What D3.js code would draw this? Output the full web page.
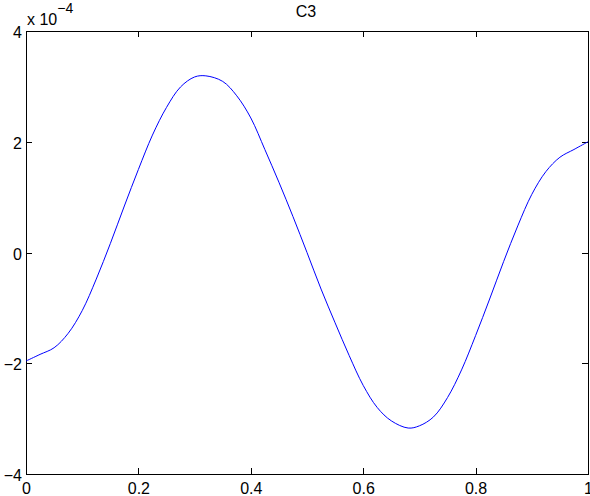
<!DOCTYPE html>
<html>
<head>
<meta charset="utf-8">
<script src="https://cdn.jsdelivr.net/npm/d3@7"></script>
<style>
  html, body { margin: 0; padding: 0; background: #fff; }
  svg { display: block; }
  text { font-family: "Liberation Sans", Arial, Helvetica, sans-serif; fill: #000; }
</style>
</head>
<body>
<svg id="chart" width="590" height="496"></svg>
<script>
// ---- data (values in units of 1e-4) ----
const title = "C3";
const xValues = [0, 0.025, 0.05, 0.075, 0.1, 0.125, 0.15, 0.175, 0.2, 0.225, 0.25, 0.275, 0.3, 0.32,
  0.35, 0.375, 0.4, 0.425, 0.45, 0.475, 0.5, 0.525, 0.55, 0.575, 0.6, 0.625, 0.65, 0.68,
  0.7, 0.725, 0.75, 0.775, 0.8, 0.825, 0.85, 0.875, 0.9, 0.925, 0.95, 0.975, 1.0];
const yValues = [-1.96, -1.84, -1.72, -1.46, -1.05, -0.48, 0.16, 0.84, 1.50, 2.12, 2.62, 2.99, 3.17, 3.19,
  3.09, 2.83, 2.43, 1.86, 1.27, 0.65, 0.0, -0.66, -1.27, -1.86, -2.40, -2.80, -3.04, -3.17,
  -3.13, -2.97, -2.62, -2.12, -1.50, -0.84, -0.16, 0.48, 1.05, 1.46, 1.72, 1.86, 2.0];
const xTicks = [0, 0.2, 0.4, 0.6, 0.8, 1];
const xTickLabels = ["0", "0.2", "0.4", "0.6", "0.8", "1"];
const yTicks = [-4, -2, 0, 2, 4];
const yTickLabels = ["\u22124", "\u22122", "0", "2", "4"];
const exponentLabel = "\u22124";

const svg = d3.select("#chart");
const mLeft = 26, mRight = 588, mTop = 31, mBottom = 474;
const x = d3.scaleLinear().domain([0, 1]).range([mLeft, mRight]);
const y = d3.scaleLinear().domain([-4, 4]).range([mBottom, mTop]);
const tickLen = 6;
const fontSize = 16;

// frame
svg.append("rect")
  .attr("x", mLeft).attr("y", mTop)
  .attr("width", mRight - mLeft).attr("height", mBottom - mTop)
  .attr("fill", "none").attr("stroke", "#000").attr("stroke-width", 1)
  .attr("shape-rendering", "crispEdges");

// axes (ticks inward)
const axB = d3.axisBottom(x).tickValues(xTicks).tickSizeInner(-tickLen).tickSizeOuter(0)
  .tickFormat((d, i) => xTickLabels[i]).tickPadding(9);
const axT = d3.axisTop(x).tickValues(xTicks).tickSizeInner(-tickLen).tickSizeOuter(0).tickFormat("");
const axL = d3.axisLeft(y).tickValues(yTicks).tickSizeInner(-tickLen).tickSizeOuter(0)
  .tickFormat((d, i) => yTickLabels[i]).tickPadding(4);
const axR = d3.axisRight(y).tickValues(yTicks).tickSizeInner(-tickLen).tickSizeOuter(0).tickFormat("");

function styleAxis(g) {
  g.select(".domain").remove();
  g.selectAll("line").attr("stroke", "#000").attr("shape-rendering", "crispEdges");
  g.selectAll("text").attr("font-size", fontSize).attr("fill", "#000")
    .style("font-family", '"Liberation Sans", Arial, sans-serif');
}
const gB = svg.append("g").attr("transform", `translate(0,${mBottom})`).call(axB).call(styleAxis);
svg.append("g").attr("transform", `translate(0,${mTop})`).call(axT).call(styleAxis);
const gL = svg.append("g").attr("transform", `translate(${mLeft},0)`).call(axL).call(styleAxis);
svg.append("g").attr("transform", `translate(${mRight},0)`).call(axR).call(styleAxis);
gL.selectAll("text").attr("dy", "0.42em");

// line
const pts = xValues.map((d, i) => [d, yValues[i]]);
const line = d3.line().x(d => x(d[0])).y(d => y(d[1])).curve(d3.curveCatmullRom.alpha(0.5));
svg.append("path").datum(pts)
  .attr("d", line).attr("fill", "none").attr("stroke", "#0000ff").attr("stroke-width", 1);

// title
svg.append("text").attr("x", (mLeft + mRight) / 2 - 1).attr("y", 17)
  .attr("text-anchor", "middle").attr("font-size", fontSize).text(title);

// exponent
const ex = svg.append("text").attr("x", mLeft + 1).attr("y", 25).attr("font-size", fontSize);
ex.append("tspan").text("x 10");
ex.append("tspan").attr("dy", -12).attr("font-size", 14).text(exponentLabel);
</script>
</body>
</html>
